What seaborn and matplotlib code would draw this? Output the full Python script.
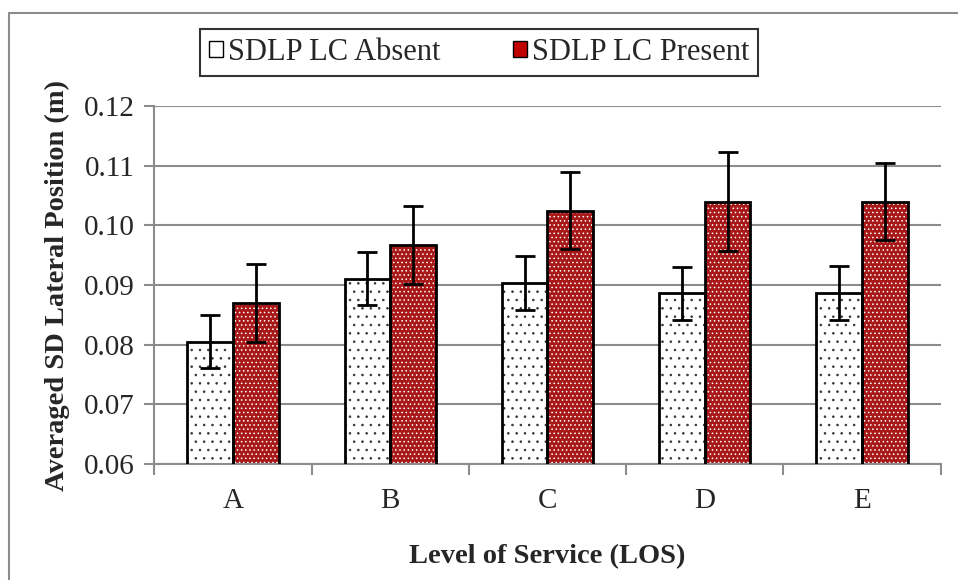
import seaborn as sns
import matplotlib.pyplot as plt
import pandas as pd
from matplotlib.patches import Patch, Rectangle
from matplotlib.lines import Line2D

sns.set_theme(style="ticks")
plt.rcParams['font.family'] = ['Liberation Serif', 'DejaVu Serif']
plt.rcParams['hatch.linewidth'] = 0.6

# data
los = ['A', 'B', 'C', 'D', 'E']
absent = [0.0805, 0.0911, 0.0904, 0.0886, 0.0887]
present = [0.0870, 0.0967, 0.1025, 0.1040, 0.1040]
absent_err = [0.0044, 0.0045, 0.0045, 0.0045, 0.0045]
present_err = [0.0066, 0.0065, 0.0065, 0.0083, 0.0065]
series = ['SDLP LC Absent', 'SDLP LC Present']

df = pd.DataFrame({
    'LOS': los * 2,
    'value': absent + present,
    'err': absent_err + present_err,
    'series': [series[0]] * 5 + [series[1]] * 5,
})

red = '#C00000'
grid_col = '#8c8c8c'

fig = plt.figure(figsize=(9.58, 5.8), dpi=100)
# gray frame of the original chart area (only top and left are visible)
fig.add_artist(Line2D([0.0094, 0.0094], [0, 0.978], color=grid_col, lw=1.5))
fig.add_artist(Line2D([0.0094, 1], [0.978, 0.978], color=grid_col, lw=1.5))

ax = fig.add_axes([0.161, 0.2, 0.821, 0.617])

sns.barplot(data=df, x='LOS', y='value', hue='series', order=los,
            hue_order=series, palette=['white', red], width=0.58, gap=0,
            legend=False, ax=ax, zorder=2)

# hatch + outline (hatch colour follows edgecolor, so outline drawn on top)
n = len(los)
bars = list(ax.patches[:2 * n])
for i, bar in enumerate(bars):
    if i < n:
        bar.set_hatch('..')
        bar.set_edgecolor('#333333')
    else:
        bar.set_hatch('....')
        bar.set_edgecolor('white')
    bar.set_linewidth(0)
    ax.add_patch(Rectangle(bar.get_xy(), bar.get_width(), bar.get_height(),
                           fill=False, edgecolor='black', linewidth=2, zorder=3))

# error bars at bar centres
for i, bar in enumerate(bars):
    ax.errorbar(bar.get_x() + bar.get_width() / 2, df['value'][i],
                yerr=df['err'][i], fmt='none', ecolor='black',
                elinewidth=2, capsize=7, capthick=2, zorder=4)

ax.set_ylim(0.06, 0.12)
ax.set_yticks([0.06, 0.07, 0.08, 0.09, 0.10, 0.11, 0.12])
ax.set_yticklabels(['0.06', '0.07', '0.08', '0.09', '0.10', '0.11', '0.12'])
ax.set_xlim(-0.5, 4.5)
ax.yaxis.grid(True, color=grid_col, linewidth=1.5, zorder=0)
ax.set_axisbelow(True)

# x ticks between categories, labels centred
ax.set_xticks([-0.5, 0.5, 1.5, 2.5, 3.5, 4.5])
ax.set_xticklabels([])
ax.set_xticks(range(n), minor=True)
ax.set_xticklabels(los, minor=True)
ax.tick_params(axis='x', which='major', length=8, color=grid_col, width=1.5)
ax.tick_params(axis='x', which='minor', length=0, pad=17, labelsize=21)
ax.tick_params(axis='y', length=7, color=grid_col, width=1.5, pad=7, labelsize=21)

for s in ['top', 'right']:
    ax.spines[s].set_visible(False)
for s in ['left', 'bottom']:
    ax.spines[s].set_color(grid_col)
    ax.spines[s].set_linewidth(1.5)

ax.set_xlabel('Level of Service (LOS)', fontsize=20.5, fontweight='bold', labelpad=22)
ax.set_ylabel('Averaged SD Lateral Position (m)', fontsize=20.5, fontweight='bold', labelpad=10)

handles = [Patch(facecolor='white', edgecolor='black', label=series[0]),
           Patch(facecolor=red, edgecolor='black', label=series[1])]
leg = fig.legend(handles=handles, loc='center',
                 bbox_to_anchor=(0.2088, 0.867, 0.5825, 0.085), mode='expand',
                 ncol=2, fontsize=22, frameon=True, fancybox=False,
                 handlelength=0.45, handleheight=0.45, handletextpad=0.15,
                 columnspacing=1.0, borderpad=0.3, borderaxespad=0)
leg.get_frame().set_edgecolor('black')
leg.get_frame().set_linewidth(1.5)

fig.savefig('out.png', dpi=100)
